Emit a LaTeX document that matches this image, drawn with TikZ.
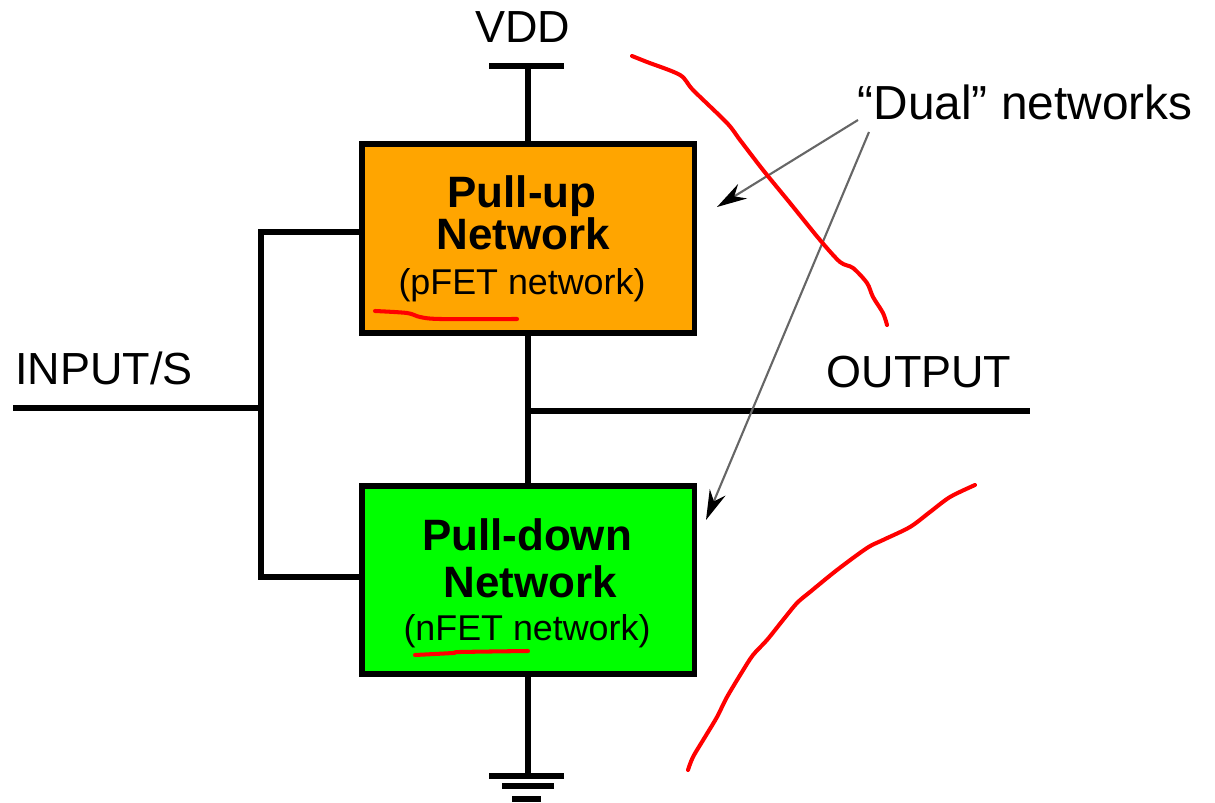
\documentclass[tikz,border=0pt]{standalone}
\usepackage{fontspec}
\setmainfont{Liberation Sans}
\usetikzlibrary{arrows.meta}
\definecolor{pullupfill}{HTML}{FFA500}
\definecolor{pulldownfill}{HTML}{00FF00}

\begin{document}
\begin{tikzpicture}[
    wire/.style={line width=1.7pt},
    netbox/.style={draw,line width=1.7pt,minimum width=3.325cm,minimum height=1.89cm,inner sep=0pt},
    lbl/.style={anchor=base,inner sep=0pt,font=\fontsize{12.8}{15}\selectfont},
    boxtitle/.style={anchor=base,inner sep=0pt,font=\fontsize{12.5}{15}\selectfont\bfseries},
    boxsub/.style={anchor=base,inner sep=0pt,font=\fontsize{10.2}{12}\selectfont},
    dualarrow/.style={draw=black!60,line width=0.6pt,-{Stealth[length=0.3cm,width=0.17cm,color=black]}},
    scribble/.style={red,line width=1.15pt,line cap=round,line join=round}]
    \useasboundingbox (0,0) rectangle (12.15,8.02);
    % the two networks
    \node[netbox,fill=pullupfill] (pun) at (5.2825,5.635) {};
    \node[netbox,fill=pulldownfill,minimum height=1.88cm] (pdn) at (5.2825,2.22) {};
    \node[boxtitle] (puntitle) at (5.22,5.94) {Pull-up};
    \node[boxtitle] (punnet) at (5.235,5.52) {Network};
    \node[boxsub] (punsub) at (5.22,5.07) {(pFET network)};
    \node[boxtitle] (pdntitle) at (5.27,2.52) {Pull-down};
    \node[boxtitle] (pdnnet) at (5.30,2.05) {Network};
    \node[boxsub] (pdnsub) at (5.27,1.62) {(nFET network)};
    % supply and ground
    \coordinate (vdd) at (5.2825,7.36);
    \coordinate (gnd) at (5.2825,0.26);
    \node[lbl] (vddlbl) at (5.23,7.59) {VDD};
    \draw[wire] (pun.north) -- (vdd);
    \draw[wire] ([xshift=-0.39cm]vdd) -- ([xshift=0.36cm]vdd);
    \draw[wire] (pdn.south) -- (gnd);
    \draw[wire] ([xshift=-0.39cm]gnd) -- ([xshift=0.36cm]gnd);
    \draw[wire] ([shift={(-0.26,-0.10)}]gnd) -- ([shift={(0.26,-0.10)}]gnd);
    \draw[wire] ([shift={(-0.16,-0.23)}]gnd) -- ([shift={(0.13,-0.23)}]gnd);
    % inputs
    \coordinate (in) at (0.13,3.94);
    \coordinate (jt) at (2.61,5.70);
    \coordinate (jb) at (2.61,2.25);
    \node[lbl] (inlbl) at (1.04,4.18) {INPUT/S};
    \draw[wire] (in) -- (in -| jt);
    \draw[wire] (jt -| pun.west) -- (jt) -- (jb) -- (jb -| pdn.west);
    % output
    \coordinate (out) at (10.30,3.91);
    \node[lbl] (outlbl) at (9.19,4.15) {OUTPUT};
    \draw[wire] (pun.south) -- (pdn.north);
    \draw[wire] (pun.south |- out) -- (out);
    % dual note
    \node[lbl,anchor=base west,font=\fontsize{13.6}{16}\selectfont] (dual) at (8.57,6.82) {“Dual” networks};
    \coordinate (tipA) at (7.17,5.95);
    \coordinate (tipB) at (7.06,2.82);
    \draw[dualarrow] ([xshift=0.01cm]dual.base west) -- (tipA);
    \draw[dualarrow] ([shift={(0.12,-0.12)}]dual.base west) -- (tipB);
    % red pen marks
    \draw[scribble] plot[smooth,tension=0.5] coordinates {(6.32,7.46) (6.47,7.40) (6.80,7.27) (6.93,7.12) (7.27,6.79) (7.40,6.62) (7.63,6.32) (7.90,5.99) (8.20,5.62) (8.40,5.40) (8.53,5.34) (8.67,5.19) (8.73,5.05) (8.83,4.89) (8.87,4.77)};
    \draw[scribble] plot[smooth,tension=0.5] coordinates {(9.75,3.17) (9.50,3.05) (9.30,2.90) (9.10,2.75) (8.83,2.62) (8.67,2.54) (8.37,2.32) (8.10,2.10) (7.97,1.99) (7.83,1.82) (7.67,1.62) (7.53,1.47) (7.42,1.30) (7.27,1.05) (7.17,0.85) (7.05,0.65) (6.93,0.45) (6.88,0.32)};
    \draw[scribble] plot[smooth,tension=0.5] coordinates {(3.75,4.91) (4.07,4.89) (4.20,4.85) (4.40,4.83) (5.17,4.83)};
    \draw[scribble] plot[smooth,tension=0.5] coordinates {(4.15,1.47) (4.53,1.49) (4.60,1.50) (5.28,1.51)};
\end{tikzpicture}
\end{document}
